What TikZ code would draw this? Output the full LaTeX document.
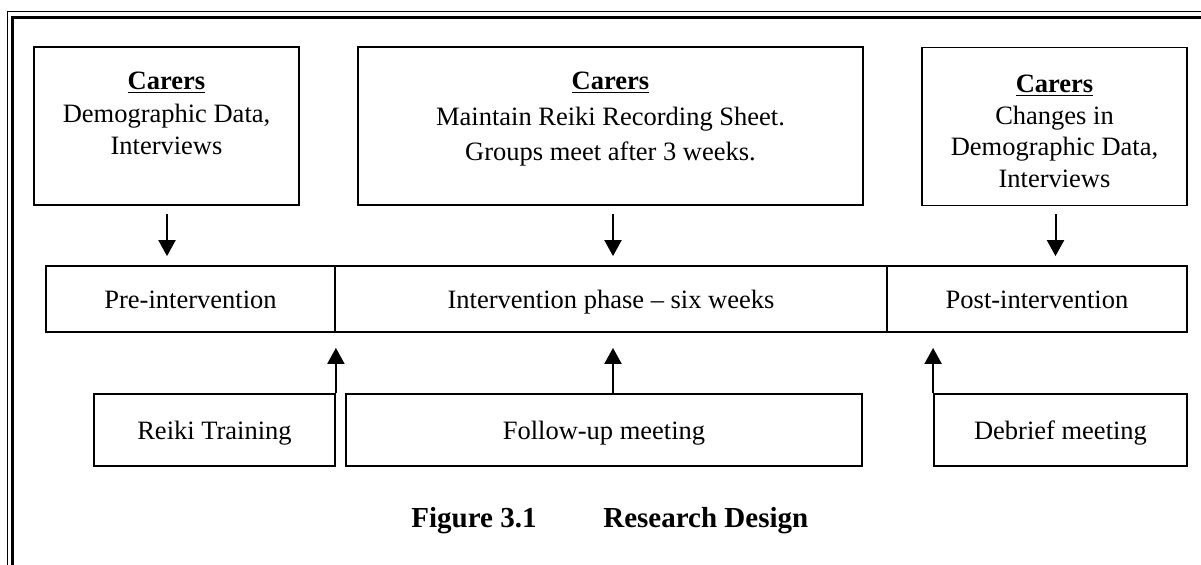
\documentclass[tikz,border=0pt]{standalone}
\usepackage{fontspec}
\setmainfont{Liberation Serif}
\usetikzlibrary{calc,arrows.meta}
\begin{document}
\begin{tikzpicture}[x=0.5pt,y=-0.5pt,
  box/.style={draw,line width=0.9pt,inner sep=0pt},
  topbox/.style={box,minimum height=79pt},
  rowbox/.style={box,minimum height=33pt,text height=11pt,text depth=2pt,font=\fontsize{13.25pt}{15.5pt}\selectfont},
  lowbox/.style={box,minimum height=36pt,text height=11pt,text depth=2pt,font=\fontsize{13.25pt}{15.5pt}\selectfont},
  txt/.style={inner sep=0pt,align=center,anchor=north,font=\fontsize{13.25pt}{15.75pt}\selectfont},
  capt/.style={inner sep=0pt,anchor=base west,font=\fontsize{14.5pt}{17pt}\selectfont\bfseries},
  arr/.style={line width=1pt,-{Triangle[length=8pt,width=8.5pt]}},
  frame/.style={line cap=rect}]
\useasboundingbox (0,0) rectangle (1201,564);
\begin{scope}
  \clip (0,0) rectangle (1201,564);
  \draw[frame,line width=0.65pt] (7.5,600) -- (7.5,11.5) -- (1300,11.5);
  \draw[frame,line width=1.5pt] (12.5,600) -- (12.5,17) -- (1300,17);
\end{scope}
% top boxes
\node[topbox,minimum width=132.5pt] (c1) at (166.5,126) {};
\node[topbox,minimum width=252.5pt] (c2) at (610.5,126) {};
\node[topbox,minimum width=132.5pt] (c3) at (1054.5,126.5) {};
\node[txt] (t1) at ($(c1.north)+(0,25)$) {\textbf{\underline{Carers}}\\[1pt]Demographic Data,\\Interviews};
\node[txt] (t2) at ($(c2.north)+(0,25)$) {\textbf{\underline{Carers}}\\[2.5pt]Maintain Reiki Recording Sheet.\\[1.75pt]Groups meet after 3 weeks.};
\node[txt] (t3) at ($(c3.north)+(0,28)$) {\textbf{\underline{Carers}}\\Changes in\\Demographic Data,\\Interviews};
% middle row
\node[rowbox,minimum width=144.5pt] (pre) at (190.5,299) {Pre-intervention};
\node[rowbox,minimum width=276pt] (int) at (611,299) {Intervention phase -- six weeks};
\node[rowbox,minimum width=150pt] (post) at (1037,299) {Post-intervention};
% bottom row
\node[lowbox,minimum width=120.5pt] (rt) at (214.5,430) {Reiki Training};
\node[lowbox,minimum width=258pt] (fu) at (604,430) {Follow-up meeting};
\node[lowbox,minimum width=126.5pt] (db) at (1060.5,430) {Debrief meeting};
% down arrows
\draw[arr] ($(c1.south)+(0.5,8)$) -- ($(c1.south |- pre.north)+(0.5,-9)$);
\draw[arr] ($(c2.south)+(2.5,8)$) -- ($(c2.south |- int.north)+(2.5,-9)$);
\draw[arr] ($(c3.south)+(1,8)$) -- ($(c3.south |- post.north)+(1,-9)$);
% up arrows
\draw[arr] (rt.north east) -- ($(rt.north east |- pre.south)+(0,15)$);
\draw[arr] ($(fu.north)+(9,0)$) -- ($(fu.north |- int.south)+(9,15)$);
\draw[arr] (db.north west) -- ($(db.north west |- post.south)+(0,15)$);
% caption
\node[capt] (f1) at (411,527) {Figure 3.1};
\node[capt] (f2) at (603,527) {Research Design};
\end{tikzpicture}
\end{document}
